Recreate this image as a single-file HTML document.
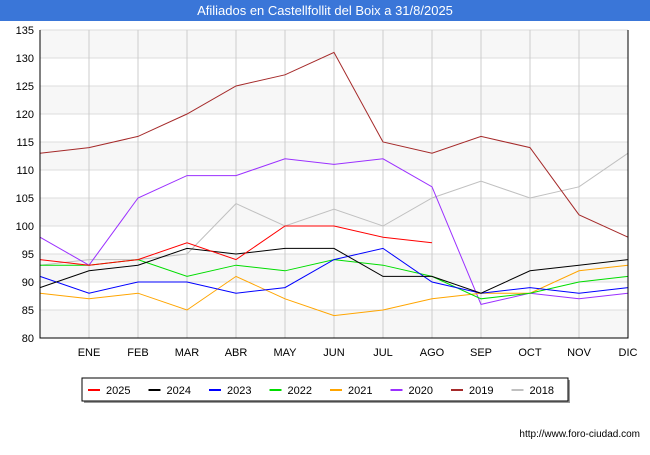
<!DOCTYPE html>
<html><head><meta charset="utf-8"><style>
body{margin:0;width:650px;height:450px;background:#fff;font-family:"Liberation Sans",sans-serif;overflow:hidden}
</style></head><body>
<svg width="650" height="450" font-family="Liberation Sans, sans-serif">
<rect x="0" y="0" width="650" height="21" fill="#3a76d8"/>
<text x="325" y="15" text-anchor="middle" fill="#fff" font-size="13">Afiliados en Castellfollit del Boix a 31/8/2025</text>
<g id="grid"></g><g id="series"></g><g id="axes"></g>
<g>
<rect x="84" y="380" width="486" height="23" fill="#999"/>
<rect x="82" y="378" width="486" height="23" fill="#fff" stroke="#000"/>
<g id="legend"></g></g>
<text x="640" y="437" text-anchor="end" font-size="10" fill="#000">http://www.foro-ciudad.com</text>
</svg>
<script>
const months=["","ENE","FEB","MAR","ABR","MAY","JUN","JUL","AGO","SEP","OCT","NOV","DIC"];
const yTicks=[80,85,90,95,100,105,110,115,120,125,130,135];
const seriesNames=["2025","2024","2023","2022","2021","2020","2019","2018"];
const seriesColors=["#ff0000","#000000","#0000ff","#00dd00","#ffa500","#9b30ff","#a52a2a","#c0c0c0"];
const s2025=[94,93,94,97,94,100,100,98,97];
const s2024=[89,92,93,96,95,96,96,91,91,88,92,93,94];
const s2023=[91,88,90,90,88,89,94,96,90,88,89,88,89];
const s2022=[93,93,94,91,93,92,94,93,91,87,88,90,91];
const s2021=[88,87,88,85,91,87,84,85,87,88,88,92,93];
const s2020=[98,93,105,109,109,112,111,112,107,86,88,87,88];
const s2019=[113,114,116,120,125,127,131,115,113,116,114,102,98];
const s2018=[93,94,94,95,104,100,103,100,105,108,105,107,113];
const allSeries=[s2025,s2024,s2023,s2022,s2021,s2020,s2019,s2018];
const X0=40,X1=628,Y0=338,Y1=30;
const xs=i=>X0+i*(X1-X0)/12;
const ys=v=>Y0-(v-80)*(Y0-Y1)/55;
const NS="http://www.w3.org/2000/svg";
function mk(t,a,p){const e=document.createElementNS(NS,t);for(const k in a)e.setAttribute(k,a[k]);p.appendChild(e);return e;}
const grid=document.getElementById('grid'),axes=document.getElementById('axes'),ser=document.getElementById('series'),leg=document.getElementById('legend');
for(let i=0;i<yTicks.length-1;i++){if(i%2==0){const r=mk('rect',{x:X0,y:ys(yTicks[i+1]),width:X1-X0,height:ys(yTicks[i])-ys(yTicks[i+1]),fill:'#f7f7f7'},grid);}}
yTicks.forEach(v=>{const l=mk('line',{x1:X0,x2:X1,y1:ys(v),y2:ys(v),stroke:'#ddd'},grid);
const t=mk('text',{x:X0-6,y:ys(v)+4,'text-anchor':'end','font-size':11},axes);t.textContent=v;});
months.forEach((m,i)=>{const l=mk('line',{x1:xs(i),x2:xs(i),y1:Y1,y2:Y0,stroke:'#ccc'},grid);
if(m){const t=mk('text',{x:xs(i),y:Y0+18,'text-anchor':'middle','font-size':11},axes);t.textContent=m;}});
const ax=mk('polyline',{points:`${X0},${Y1} ${X0},${Y0} ${X1},${Y0} ${X1},${Y1}`,fill:'none',stroke:'#000'},axes);

for(let k=allSeries.length-1;k>=0;k--){const d=allSeries[k];const p=mk('polyline',{points:d.map((v,i)=>xs(i)+','+ys(v)).join(' '),fill:'none',stroke:seriesColors[k],'stroke-width':1},ser);
}
seriesNames.forEach((n,k)=>{const x=88+k*60.5;const l=mk('line',{x1:x,x2:x+12,y1:390,y2:390,stroke:seriesColors[k],'stroke-width':2},leg);
const t=mk('text',{x:x+18,y:394,'font-size':11},leg);t.textContent=n;});
</script>
</body></html>
